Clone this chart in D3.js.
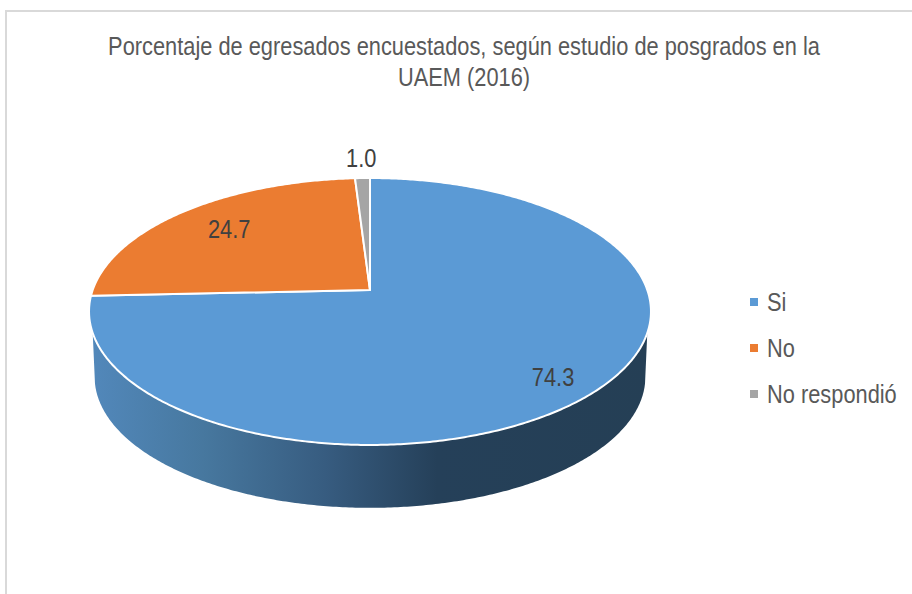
<!DOCTYPE html>
<html>
<head>
<meta charset="utf-8">
<script src="https://cdn.jsdelivr.net/npm/d3@7"></script>
<style>
  body { margin: 0; background: #fff; }
  svg { display: block; }
  text { font-family: "Liberation Sans", sans-serif; }
</style>
</head>
<body>
<div id="chart"></div>
<script>
const categories = ["Si", "No", "No respondió"]
const values = [74.3, 24.7, 1.0]
const valueLabels = ["74.3", "24.7", "1.0"]
const titleLines = ["Porcentaje de egresados encuestados, según estudio de posgrados en la", "UAEM (2016)"]
const sliceColors = ["#5b9ad5", "#eb7c31", "#a5a5a5"]

const width = 912
const height = 594

// pie is tilted with a bit of perspective, so the apex is not the centre of the ellipse
const apexX = 370
const apexY = 290
const radiusX = 277.3
const radiusY = 130
const perspective = 0.161
const wallDrop = 66
const wallScale = 0.98

// reference font is a narrow sans, squeeze Liberation Sans to the same width
const narrow = 0.873

function project(angle, r = 1, scale = 1, drop = 0) {
    const u = Math.sin(angle) * r
    const v = -Math.cos(angle) * r
    const w = 1 - perspective * v
    return [apexX + scale * radiusX * u / w, apexY + drop + scale * radiusY * v / w]
}

function arcPoints(a0, a1, scale = 1, drop = 0) {
    const n = Math.max(2, Math.ceil(Math.abs(a1 - a0) / 0.01))
    return d3.range(n + 1).map(i => project(a0 + (a1 - a0) * i / n, 1, scale, drop))
}

function place(x, y) {
    return "translate(" + x + "," + y + ") scale(" + narrow + ",1)"
}

const deg = Math.PI / 180
const line = d3.line()

const svg = d3.select("#chart").append("svg")
    .attr("width", width)
    .attr("height", height)

// frame, only the top and left edges are visible
svg.append("path")
    .attr("d", "M6,594V11H912")
    .attr("fill", "none")
    .attr("stroke", "#d9d9d9")
    .attr("stroke-width", 2)

svg.append("g").selectAll("text")
    .data(titleLines)
    .join("text")
    .attr("transform", (d, i) => place(464, 55 + i * 31))
    .attr("text-anchor", "middle")
    .attr("font-size", 25)
    .attr("fill", "#595959")
    .text(d => d)

// side wall
const grad = svg.append("defs").append("linearGradient")
    .attr("id", "wall")
    .attr("gradientUnits", "userSpaceOnUse")
    .attr("x1", 90).attr("x2", 650)
    .attr("y1", 0).attr("y2", 0)
grad.selectAll("stop")
    .data([[0, "#5288bb"], [0.2, "#47789f"], [0.42, "#375c80"], [0.62, "#254059"], [1, "#253f55"]])
    .join("stop")
    .attr("offset", d => d[0])
    .attr("stop-color", d => d[1])

const wallPoints = arcPoints(251.7 * deg, 108.3 * deg)
    .concat(arcPoints(102 * deg, 258 * deg, wallScale, wallDrop))
svg.append("path")
    .attr("d", line(wallPoints) + "Z")
    .attr("fill", "url(#wall)")

// slices
const pie = d3.pie().sort(null).value(d => d)
const slices = pie(values)

svg.append("g").selectAll("path")
    .data(slices)
    .join("path")
    .attr("d", d => line([[apexX, apexY]].concat(arcPoints(d.startAngle, d.endAngle))) + "Z")
    .attr("fill", (d, i) => sliceColors[i])
    .attr("stroke", "#fff")
    .attr("stroke-width", 2)
    .attr("stroke-linejoin", "round")

// data labels: radial factor and a small nudge per slice
const labelRadius = [0.85, 0.72, 1.2]
const labelNudge = [[-5, 3], [-3, -3], [0, -1]]

svg.append("g").selectAll("text")
    .data(slices)
    .join("text")
    .attr("transform", (d, i) => {
        const p = project((d.startAngle + d.endAngle) / 2, labelRadius[i])
        return place(p[0] + labelNudge[i][0], p[1] + labelNudge[i][1] + 9)
    })
    .attr("text-anchor", "middle")
    .attr("font-size", 25)
    .attr("fill", "#404040")
    .text((d, i) => valueLabels[i])

// legend
const legendY = d3.scalePoint().domain(categories).range([311, 403])
const legend = svg.append("g").selectAll("g")
    .data(categories)
    .join("g")
    .attr("transform", d => "translate(750," + legendY(d) + ")")
legend.append("rect")
    .attr("y", -13)
    .attr("width", 8)
    .attr("height", 8)
    .attr("fill", (d, i) => sliceColors[i])
legend.append("text")
    .attr("transform", place(17, 0))
    .attr("font-size", 25)
    .attr("fill", "#595959")
    .text(d => d)
</script>
</body>
</html>
